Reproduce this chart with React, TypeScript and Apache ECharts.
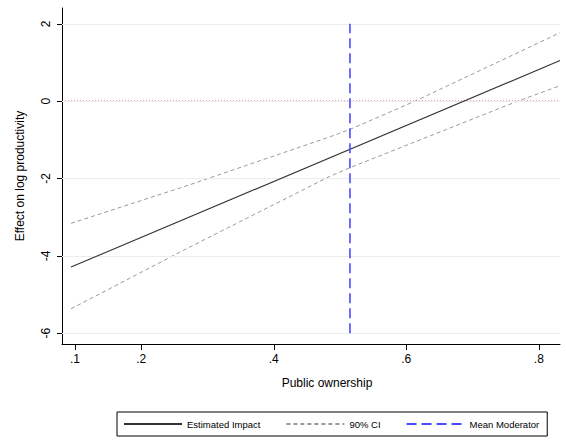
import React, { useEffect, useRef } from "react";
import * as echarts from "echarts";

// Data
const estX = [0.094, 0.832];
const estY = [-4.29, 1.05];
const upperX = [0.094, 0.2735, 0.485, 0.515, 0.613, 0.832];
const upperY = [-3.16, -2.16, -0.92, -0.73, 0, 1.77];
const lowerX = [0.094, 0.2735, 0.485, 0.515, 0.768, 0.832];
const lowerY = [-5.37, -3.77, -1.94, -1.72, 0, 0.4];
const meanModerator = 0.515;
const meanLineY = [-6, 2];
const xTicks = [0.1, 0.2, 0.4, 0.6, 0.8];
const yTicks = [-6, -4, -2, 0, 2];
const xRange = [0.0804, 0.832];
const yRange = [-6.28, 2.41];

const FONT = "Liberation Sans, Arial, Helvetica, sans-serif";

function zip(xs: number[], ys: number[]) {
  return xs.map((x, i) => [x, ys[i]]);
}

export default function App() {
  const ref = useRef<HTMLDivElement>(null);
  useEffect(() => {
    if (!ref.current) return;
    const chart = echarts.init(ref.current, undefined, { renderer: "svg" });
    chart.setOption({
      animation: false,
      backgroundColor: "#ffffff",
      textStyle: { fontFamily: FONT },
      grid: { left: 62, right: 6, top: 8, bottom: 98 },
      xAxis: {
        type: "value",
        min: xRange[0],
        max: xRange[1],
        name: "Public ownership",
        nameLocation: "middle",
        nameGap: 33,
        nameTextStyle: { fontSize: 12, color: "#000", fontFamily: FONT, padding: [0, 0, 0, 32] },
        axisLine: { show: true, onZero: false, lineStyle: { color: "#000", width: 1 } },
        axisTick: { show: true, customValues: xTicks, length: 6, lineStyle: { color: "#000" } },
        axisLabel: {
          customValues: xTicks,
          margin: 9,
          fontSize: 12,
          color: "#000",
          fontFamily: FONT,
          formatter: (v: number) => String(v).replace(/^0/, ""),
        },
        splitLine: { show: false },
      },
      yAxis: {
        type: "value",
        min: yRange[0],
        max: yRange[1],
        name: "Effect on log productivity",
        nameLocation: "middle",
        nameGap: 36,
        nameRotate: 90,
        nameTextStyle: { fontSize: 12, color: "#000", fontFamily: FONT },
        axisLine: { show: true, onZero: false, lineStyle: { color: "#000", width: 1 } },
        axisTick: { show: true, customValues: yTicks, length: 5, lineStyle: { color: "#000" } },
        axisLabel: {
          customValues: yTicks,
          rotate: 90,
          margin: 10,
          fontSize: 12,
          color: "#000",
          fontFamily: FONT,
        },
        splitLine: { show: false },
      },
      legend: {
        data: ["Estimated Impact", "90% CI", "Mean Moderator"],
        left: 117,
        top: 412,
        orient: "horizontal",
        itemWidth: 58,
        itemHeight: 10,
        itemGap: 25,
        itemStyle: { opacity: 0 },
        padding: [7, 8, 7, 6],
        borderColor: "#000",
        borderWidth: 1,
        borderRadius: 0,
        textStyle: { fontSize: 9.5, color: "#000", fontFamily: FONT },
      },
      series: [
        {
          name: "grid",
          type: "line",
          data: [],
          silent: true,
          markLine: {
            silent: true,
            symbol: "none",
            label: { show: false },
            lineStyle: { color: "#ececec", type: "solid", width: 1 },
            data: yTicks.map((v) => ({ yAxis: v })),
          },
        },
        {
          name: "zero",
          type: "line",
          data: [[xRange[0], 0], [xRange[1], 0]],
          symbol: "none",
          silent: true,
          z: 3,
          lineStyle: { color: "#c0506a", type: [1, 2], width: 1.2 },
          itemStyle: { color: "#c0506a" },
        },
        {
          name: "90% CI",
          type: "line",
          data: zip(upperX, upperY),
          symbol: "none",
          lineStyle: { color: "#9a9a9a", width: 1, type: [4, 3] },
          itemStyle: { color: "#9a9a9a" },
          z: 4,
        },
        {
          name: "90% CI",
          type: "line",
          data: zip(lowerX, lowerY),
          symbol: "none",
          lineStyle: { color: "#9a9a9a", width: 1, type: [4, 3] },
          itemStyle: { color: "#9a9a9a" },
          z: 4,
        },
        {
          name: "Estimated Impact",
          type: "line",
          data: zip(estX, estY),
          symbol: "none",
          lineStyle: { color: "#333333", width: 1.1, type: "solid" },
          itemStyle: { color: "#333333" },
          z: 5,
        },
        {
          name: "Mean Moderator",
          type: "line",
          data: meanLineY.map((y) => [meanModerator, y]),
          symbol: "none",
          lineStyle: { color: "#4a4aff", width: 1.6, type: [10, 5] },
          itemStyle: { color: "#2020d0" },
          z: 6,
        },
      ],
    });
    return () => chart.dispose();
  }, []);
  return <div ref={ref} style={{ width: 566, height: 442, position: "absolute", left: 0, top: 0 }} />;
}
